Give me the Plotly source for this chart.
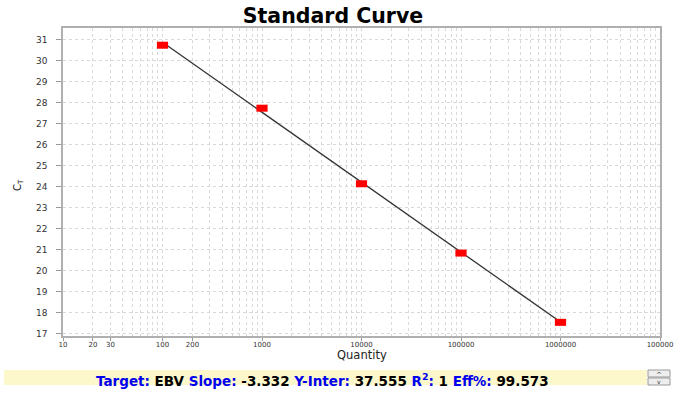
import plotly.graph_objects as go

# ---- data ----
quantities = [100, 1000, 10000, 100000, 1000000]
ct_values = [30.75, 27.75, 24.15, 20.85, 17.55]
fit_x = [100, 1000000]
fit_y = [30.891, 17.563]
x_tick_vals = [10, 20, 30, 100, 200, 1000, 10000, 100000, 1000000, 10000000]
x_tick_text = ["10", "20", "30", "100", "200", "1000", "10000", "100000", "1000000", "100000"]
y_tick_vals = list(range(17, 32))

target = "EBV"
slope = "-3.332"
y_inter = "37.555"
r2 = "1"
eff = "99.573"

W, H = 680, 398
L, R, T, B = 63, 660, 28, 336


def px(xp):
    return (xp - L) / (R - L)


def py(yp):
    return (B - yp) / (B - T)


fig = go.Figure()
fig.add_trace(go.Scatter(x=fit_x, y=fit_y, mode="lines",
                         line=dict(color="#333333", width=1.3),
                         hoverinfo="skip", showlegend=False))
fig.add_trace(go.Scatter(x=quantities, y=ct_values, mode="markers",
                         marker=dict(symbol="line-ew", size=8,
                                     line=dict(color="#ff0000", width=7)),
                         showlegend=False))

grid = "#d9d9d9"
fig.update_layout(
    width=W, height=H,
    margin=dict(l=L, r=W - R, t=T, b=H - B, autoexpand=False),
    paper_bgcolor="white", plot_bgcolor="white",
    font=dict(family="DejaVu Sans", color="#222222"),
    title=dict(text="<b>Standard Curve</b>", x=333 / W,
               xanchor="center", y=1 - 16 / H, yanchor="middle",
               font=dict(family="DejaVu Sans", size=20.5, color="black")),
    xaxis=dict(type="log", range=[1, 7], tickvals=x_tick_vals, ticktext=x_tick_text,
               tickfont=dict(size=7, color="#333333"), automargin=False,
               ticklabelstandoff=-2,
               showgrid=True, gridcolor=grid, griddash="dot", gridwidth=1,
               minor=dict(dtick="D1", showgrid=True, gridcolor=grid, griddash="dot"),
               showline=True, linecolor="#b0b0b0", linewidth=1.5, mirror=True,
               ticks="outside", ticklen=3, tickcolor="#999999", zeroline=False),
    yaxis=dict(range=[16.9, 31.57], tickvals=y_tick_vals, automargin=False,
               tickfont=dict(size=9, color="#333333"), ticklabelstandoff=7,
               showgrid=True, gridcolor=grid, griddash="dot", gridwidth=1,
               showline=True, linecolor="#b0b0b0", linewidth=1.5, mirror=True,
               ticks="outside", ticklen=5, tickcolor="#999999", zeroline=False),
)


def note(text, xp, yp, size, **kw):
    fig.add_annotation(text=text, x=px(xp), y=py(yp), xref="paper", yref="paper",
                       xanchor="center", yanchor="middle", showarrow=False,
                       font=dict(family="DejaVu Sans", size=size,
                                 color=kw.pop("color", "#222222")), **kw)


# axis titles
note("C<sub>T</sub>", 18, 185, 10, textangle=-90)
note("Quantity", 362, 355.5, 11.5)

# bottom info bar
fig.add_shape(type="rect", xref="paper", yref="paper",
              x0=px(4), x1=px(647), y0=py(385), y1=py(370),
              fillcolor="#fdf8cc", line=dict(width=0), layer="below")
blue = "#0000ee"
info = (f"<b><span style='color:{blue}'>Target:</span> {target} "
        f"<span style='color:{blue}'>Slope:</span> {slope} "
        f"<span style='color:{blue}'>Y-Inter:</span> {y_inter} "
        f"<span style='color:{blue}'>R<sup>2</sup>:</span> {r2} "
        f"<span style='color:{blue}'>Eff%:</span> {eff}</b>")
note(info, 322, 380, 13.5, color="black")

# scroll buttons
for y0, y1 in [(370, 377), (378, 385)]:
    fig.add_shape(type="rect", xref="paper", yref="paper",
                  x0=px(648), x1=px(670), y0=py(y1), y1=py(y0),
                  fillcolor="#eeeeee", line=dict(color="#999999", width=1))
note("^", 659, 374.5, 7, color="#333333")
note("v", 659, 381, 6, color="#333333")

fig.write_html("out.html", config={"displayModeBar": False},
               post_script="document.body.style.margin='0px';document.body.style.padding='0px';")
